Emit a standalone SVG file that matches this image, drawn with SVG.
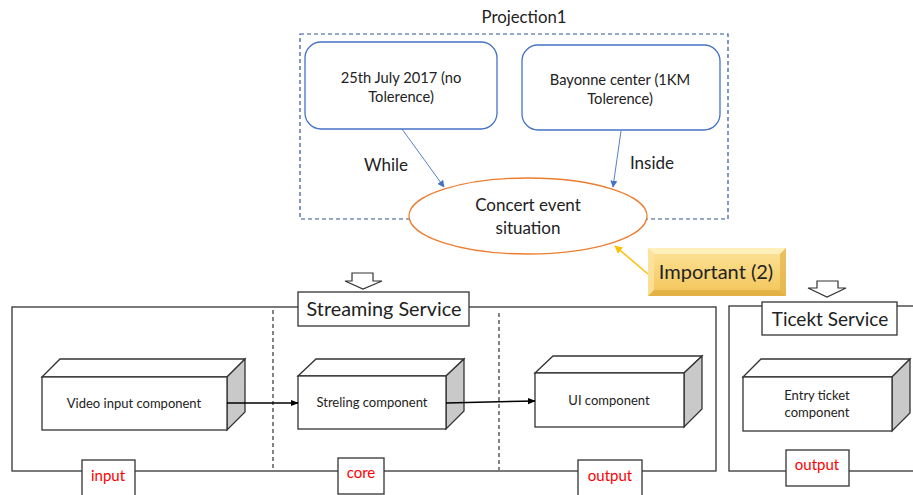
<svg xmlns="http://www.w3.org/2000/svg" width="913" height="495" viewBox="0 0 913 495">
<defs>
<style>
text{font-family:Lato,"Open Sans","Liberation Sans",sans-serif;fill:#222;}
.box{fill:#fff;stroke:#333;stroke-width:1.3;}
.side{fill:#c9c9c9;stroke:#333;stroke-width:1.3;}
.rr{fill:#fff;stroke:#4472c4;stroke-width:1.3;}
.lbl{fill:#ff0000;font-size:15px;text-anchor:middle;}
.comp{font-size:13px;text-anchor:middle;}
.blue{stroke:#4472c4;stroke-width:0.9;fill:none;}
.blk{stroke:#000;stroke-width:1.5;fill:none;}
</style>
<marker id="ab" viewBox="0 0 10 10" refX="9" refY="5" markerWidth="7" markerHeight="7" orient="auto" markerUnits="userSpaceOnUse"><path d="M0,0 L10,5 L0,10 z" fill="#4472c4"/></marker>
<marker id="ak" viewBox="0 0 10 10" refX="9" refY="5" markerWidth="8" markerHeight="8" orient="auto" markerUnits="userSpaceOnUse"><path d="M0,1 L10,5 L0,9 z" fill="#000"/></marker>
<marker id="ay" viewBox="0 0 10 10" refX="9" refY="5" markerWidth="8" markerHeight="8" orient="auto" markerUnits="userSpaceOnUse"><path d="M0,0 L10,5 L0,10 z" fill="#ffc000"/></marker>
<linearGradient id="gold" x1="0" y1="0" x2="0" y2="1">
<stop offset="0" stop-color="#fde49a"/><stop offset="1" stop-color="#f3c457"/>
</linearGradient>
</defs>

<g id="projection1">
<text x="524" y="23" font-size="16.8" text-anchor="middle">Projection1</text>
<rect x="300" y="34" width="428" height="185" fill="none" stroke="#2f5597" stroke-width="1.2" stroke-dasharray="4,3"/>
</g>

<g id="date-node">
<rect class="rr" x="305" y="42" width="192" height="87" rx="16"/>
<text x="401" y="83" font-size="14.7" text-anchor="middle">25th July 2017 (no</text>
<text x="401" y="102" font-size="14.7" text-anchor="middle">Tolerence)</text>
</g>

<g id="place-node">
<rect class="rr" x="522" y="45" width="198" height="85" rx="16"/>
<text x="620" y="85" font-size="14.7" text-anchor="middle">Bayonne center (1KM</text>
<text x="620" y="104" font-size="14.7" text-anchor="middle">Tolerence)</text>
</g>

<g id="concert-node">
<ellipse cx="528" cy="216" rx="119" ry="38" fill="#fff" stroke="#ed7d31" stroke-width="1.3"/>
<text x="528" y="211" font-size="17" text-anchor="middle">Concert event</text>
<text x="528" y="234" font-size="17" text-anchor="middle">situation</text>
</g>

<g id="important-node">
<rect x="648" y="248" width="138" height="48" fill="url(#gold)"/>
<polygon points="648,248 786,248 780,254 654,254" fill="#fff3c4" opacity="0.8"/>
<polygon points="648,296 786,296 780,290 654,290" fill="#d9a53a" opacity="0.6"/>
<polygon points="648,248 654,254 654,290 648,296" fill="#fbe3a0" opacity="0.8"/>
<polygon points="786,248 780,254 780,290 786,296" fill="#e2b24a" opacity="0.7"/>
<text x="716" y="279" font-size="20" text-anchor="middle">Important (2)</text>
</g>

<g id="streaming-service">
<rect x="12" y="307" width="704" height="164" fill="none" stroke="#333" stroke-width="1.3"/>
<line x1="273" y1="310" x2="273" y2="468" stroke="#333" stroke-width="1.2" stroke-dasharray="4,3"/>
<line x1="499" y1="313" x2="499" y2="470" stroke="#333" stroke-width="1.2" stroke-dasharray="4,3"/>
<path d="M352,273 H373 V281 H382 L363,289 L345,281 H352 Z" fill="#fff" stroke="#333" stroke-width="1.2"/>
<rect class="box" x="298" y="292" width="171" height="34"/>
<text x="384" y="316" font-size="19.8" text-anchor="middle">Streaming Service</text>
</g>

<g id="ticket-service">
<rect x="729" y="306" width="200" height="165" fill="none" stroke="#333" stroke-width="1.3"/>
<path d="M817,281 H838 V288 H846 L827,297 L808,288 H817 Z" fill="#fff" stroke="#333" stroke-width="1.2"/>
<rect class="box" x="762" y="302" width="135" height="33"/>
<text x="830" y="326" font-size="19" text-anchor="middle">Ticekt Service</text>
</g>

<g id="video-input">
<polygon class="box" points="42,377 60,359 245,359 227,377"/>
<polygon class="side" points="227,377 245,359 245,412 227,430"/>
<rect class="box" x="42" y="377" width="185" height="53"/>
<text class="comp" x="134" y="408">Video input component</text>
</g>

<g id="streling">
<polygon class="box" points="298,376 316,359 464,359 446,376"/>
<polygon class="side" points="446,376 464,359 464,411 446,429"/>
<rect class="box" x="298" y="376" width="148" height="53"/>
<text class="comp" x="372" y="407">Streling component</text>
</g>

<g id="ui">
<polygon class="box" points="535,373 553,356 702,356 684,373"/>
<polygon class="side" points="684,373 702,356 702,409 684,427"/>
<rect class="box" x="535" y="373" width="149" height="54"/>
<text class="comp" x="609" y="405">UI component</text>
</g>

<g id="entry-ticket">
<polygon class="box" points="743,377 761,359 910,359 892,377"/>
<polygon class="side" points="892,377 910,359 910,413 892,431"/>
<rect class="box" x="743" y="377" width="149" height="54"/>
<text class="comp" x="817" y="400">Entry ticket</text>
<text class="comp" x="817" y="417">component</text>
</g>

<g id="labels">
<rect class="box" x="82" y="460" width="53" height="40"/>
<text class="lbl" x="108" y="481">input</text>
<rect class="box" x="338" y="458" width="46" height="36"/>
<text class="lbl" x="361" y="478">core</text>
<rect class="box" x="578" y="460" width="64" height="40"/>
<text class="lbl" x="610" y="481">output</text>
<rect class="box" x="786" y="450" width="63" height="36"/>
<text class="lbl" x="817" y="470">output</text>
</g>

<g id="connectors">
<line class="blue" x1="402" y1="129" x2="444" y2="187" marker-end="url(#ab)"/>
<line class="blue" x1="621" y1="131" x2="613" y2="187" marker-end="url(#ab)"/>
<text x="386" y="171" font-size="17" text-anchor="middle">While</text>
<text x="652" y="169" font-size="17" text-anchor="middle">Inside</text>
<line x1="648" y1="274" x2="615" y2="246" stroke="#ffc000" stroke-width="1.5" marker-end="url(#ay)"/>
<line class="blk" x1="227" y1="403" x2="298" y2="403" marker-end="url(#ak)"/>
<line class="blk" x1="446" y1="403" x2="535" y2="401" marker-end="url(#ak)"/>
</g>
</svg>
